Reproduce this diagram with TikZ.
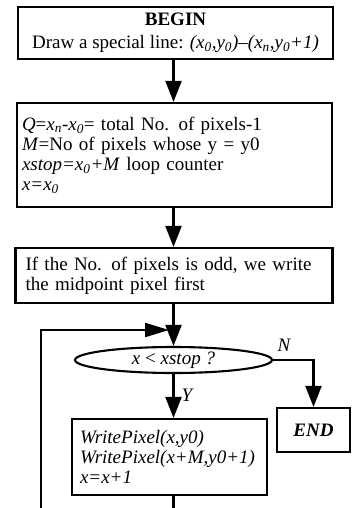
\documentclass[tikz,border=0pt]{standalone}
\usepackage{fontspec}
\setmainfont{Liberation Serif}
\usetikzlibrary{arrows.meta,shapes.geometric}
\newcommand\sbs[1]{\textsubscript{#1}}
\begin{document}
\begin{tikzpicture}[x=1pt,y=-1pt, line width=2.1pt,
  box/.style={draw, rectangle, inner ysep=0pt, font=\fontsize{19}{20}\selectfont},
  lbl/.style={font=\fontsize{19}{20}\selectfont\itshape, inner sep=0pt},
  arr/.style={-{Triangle[width=16pt,length=21pt]}},
  harr/.style={-{Triangle[width=14pt,length=24pt]}}]
\useasboundingbox (0,0) rectangle (352,508);
\node[box, minimum width=315pt, minimum height=52pt, align=center, inner xsep=0pt] (b1) at (175.5,33)
  {\textbf{BEGIN}\\[3pt]Draw a special line: \textit{(x\sbs{0},y\sbs{0})--(x\sbs{n},y\sbs{0}+1)}};
\node[box, minimum width=315pt, minimum height=104pt, align=left, inner xsep=5pt, text width=305pt] (b2) at (174.5,155)
  {\textit{Q}=\textit{x\sbs{n}}-\textit{x\sbs{0}}= total No. of pixels-1\\
   \textit{M}=No of pixels whose y = y0\\
   \textit{xstop=x\sbs{0}+M} loop counter\\
   \textit{x=x\sbs{0}}};
\node[box, minimum width=317pt, minimum height=55pt, align=left, inner xsep=10pt, text width=297pt] (b3) at (174,275.5)
  {If the No. of pixels is odd, we write\\the midpoint pixel first};
\node[box, ellipse, minimum width=197pt, minimum height=26pt, inner sep=0pt] (cond) at (173.5,360)
  {\textit{x} < \textit{xstop ?}};
\node[box, minimum width=195pt, minimum height=76pt, align=left, inner xsep=8pt, text width=179pt] (w) at (169.5,457)
  {\itshape WritePixel(x,y0)\\WritePixel(x+M,y0+1)\\x=x+1};
\node[box, minimum width=73pt, minimum height=44pt, inner sep=0pt, font=\fontsize{19}{20}\selectfont\bfseries\itshape] (end) at (313.5,430) {END};
\node[lbl] (nl) at (284,345) {N};
\node[lbl] (yl) at (187,395) {Y};
\coordinate (lb) at (41,515);
\coordinate (lt) at (41,330);
\coordinate (j) at (169,330);
\draw[arr] (b1.south -| cond.north) -- (b2.north -| cond.north);
\draw[arr] (b2.south -| cond.north) -- (b3.north -| cond.north);
\draw[arr] (b3.south -| cond.north) -- (cond.north);
\draw[arr] (cond.south) -- (w.north -| cond.south);
\draw[arr] (cond.east) -| (end.north);
\draw[harr] (w.south -| cond.south) |- (lb) -- (lt) -- (j);
\end{tikzpicture}
\end{document}
